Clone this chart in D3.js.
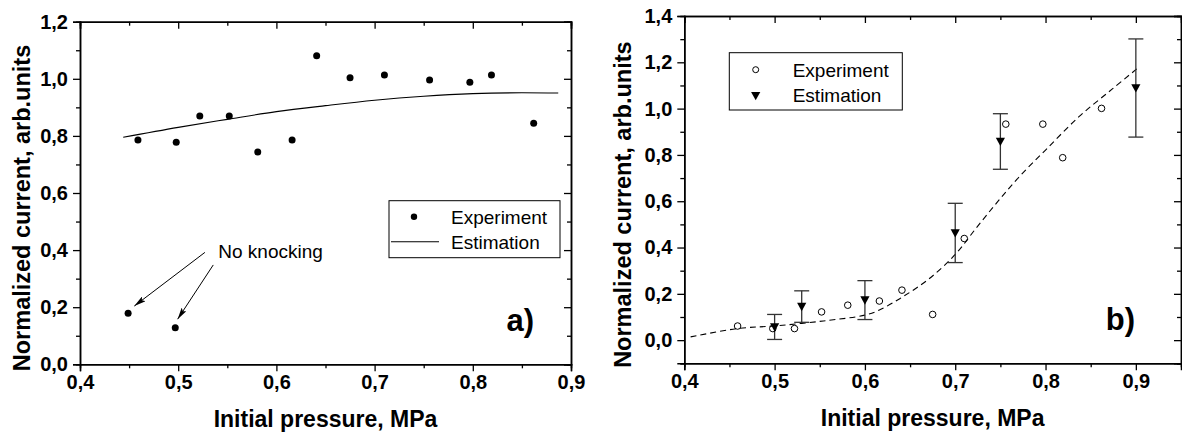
<!DOCTYPE html>
<html>
<head>
<meta charset="utf-8">
<script src="https://cdn.jsdelivr.net/npm/d3@7"></script>
<style>
  body { margin: 0; background: #fff; }
  svg { display: block; font-family: "Liberation Sans", Arial, sans-serif; }
</style>
</head>
<body>
<div id="chart"></div>
<script>
// pressures (MPa) where both panels were measured
var pressure = [0.459, 0.498, 0.522, 0.552, 0.581, 0.616, 0.641, 0.675, 0.710, 0.756, 0.797, 0.819, 0.862];

// panel a) data
var expA = [0.786, 0.778, 0.870, 0.870, 0.744, 0.786, 1.081, 1.004, 1.013, 0.996, 0.988, 1.013, 0.844];
var noKnockX = [0.449, 0.497];
var noKnockY = [0.179, 0.128];
var estAx = [0.444, 0.50, 0.55, 0.60, 0.65, 0.70, 0.75, 0.80, 0.85, 0.887];
var estAy = [0.795, 0.830, 0.858, 0.885, 0.906, 0.925, 0.939, 0.948, 0.951, 0.950];

// panel b) data
var expB = [0.061, 0.050, 0.050, 0.122, 0.151, 0.169, 0.216, 0.111, 0.439, 0.933, 0.933, 0.788, 1.001];
var estBx = [0.50, 0.53, 0.60, 0.70, 0.75, 0.90];
var estBy = [0.057, 0.145, 0.173, 0.463, 0.858, 1.089];
var estBerr = [0.054, 0.068, 0.084, 0.128, 0.120, 0.212];
var curveBx = [0.407, 0.459, 0.502, 0.554, 0.600, 0.616, 0.641, 0.671, 0.700, 0.723, 0.747, 0.771, 0.800, 0.837, 0.874, 0.904];
var curveBy = [0.014, 0.050, 0.062, 0.083, 0.108, 0.130, 0.185, 0.265, 0.370, 0.483, 0.598, 0.706, 0.821, 0.965, 1.085, 1.181];

var xTicks = [0.4, 0.5, 0.6, 0.7, 0.8, 0.9];
var yTicksA = [0.0, 0.2, 0.4, 0.6, 0.8, 1.0, 1.2];
var yTicksB = [0.0, 0.2, 0.4, 0.6, 0.8, 1.0, 1.2, 1.4];

var xTitle = "Initial pressure, MPa";
var yTitle = "Normalized current, arb.units";

var svg = d3.select("#chart").append("svg")
  .attr("width", 1182)
  .attr("height", 433);

var fmt = function(d) { return d.toFixed(1).replace(".", ","); };

function drawFrame(g, x, y, xMinor, yMinor, opt) {
  var w = opt.w, h = opt.h;
  // bottom axis
  g.append("g").attr("class", "ax").attr("transform", "translate(0," + h + ")")
    .call(d3.axisBottom(x).tickValues(xTicks).tickSize(7).tickPadding(4).tickFormat(fmt));
  g.append("g").attr("class", "ax").attr("transform", "translate(0," + h + ")")
    .call(d3.axisBottom(x).tickValues(xMinor).tickSize(4).tickFormat(""));
  // top axis (mirror)
  g.append("g").attr("class", "ax")
    .call(d3.axisTop(x).tickValues(xTicks).tickSize(-7).tickFormat(""));
  g.append("g").attr("class", "ax")
    .call(d3.axisTop(x).tickValues(xMinor).tickSize(-4).tickFormat(""));
  // left axis
  g.append("g").attr("class", "ax")
    .call(d3.axisLeft(y).tickValues(opt.yTicks).tickSize(7).tickPadding(5).tickFormat(fmt));
  g.append("g").attr("class", "ax")
    .call(d3.axisLeft(y).tickValues(yMinor).tickSize(4).tickFormat(""));
  // right axis (mirror)
  g.append("g").attr("class", "ax").attr("transform", "translate(" + w + ",0)")
    .call(d3.axisRight(y).tickValues(opt.yTicks).tickSize(-7).tickFormat(""));
  g.append("g").attr("class", "ax").attr("transform", "translate(" + w + ",0)")
    .call(d3.axisRight(y).tickValues(yMinor).tickSize(-4).tickFormat(""));

  g.selectAll(".ax path").attr("stroke", "#000").attr("stroke-width", 1.5);
  g.selectAll(".ax line").attr("stroke", "#000").attr("stroke-width", 1.3);
  g.selectAll(".ax text")
    .attr("font-family", "Liberation Sans, Arial, sans-serif")
    .attr("font-size", "20px")
    .attr("font-weight", "bold")
    .attr("fill", "#000");

  g.append("text")
    .attr("x", w / 2)
    .attr("y", h + 63)
    .attr("text-anchor", "middle")
    .attr("font-size", "23px")
    .attr("font-weight", "bold")
    .text(xTitle);

  g.append("text")
    .attr("transform", "translate(" + opt.ytx + "," + (h / 2 + 15) + ") rotate(-90)")
    .attr("text-anchor", "middle")
    .attr("font-size", "23.5px")
    .attr("font-weight", "bold")
    .text(yTitle);

  g.append("text")
    .attr("x", w - opt.labR)
    .attr("y", h - 33)
    .attr("text-anchor", "end")
    .attr("font-size", "31px")
    .attr("font-weight", "bold")
    .text(opt.label);
}

// ---------- panel a) ----------
var mA = {left: 80, top: 21.7}, wA = 491, hA = 342.6;
var gA = svg.append("g").attr("transform", "translate(" + mA.left + "," + mA.top + ")");
var xA = d3.scaleLinear().domain([0.4, 0.9]).range([0, wA]);
var yA = d3.scaleLinear().domain([0, 1.2]).range([hA, 0]);

drawFrame(gA, xA, yA, [0.45, 0.55, 0.65, 0.75, 0.85], [0.1, 0.3, 0.5, 0.7, 0.9, 1.1],
  {w: wA, h: hA, yTicks: yTicksA, ytx: -50, label: "a)", labR: 37});

gA.append("path")
  .datum(d3.zip(estAx, estAy))
  .attr("fill", "none")
  .attr("stroke", "#000")
  .attr("stroke-width", 1.1)
  .attr("d", d3.line().curve(d3.curveMonotoneX)
    .x(function(d) { return xA(d[0]); })
    .y(function(d) { return yA(d[1]); }));

gA.selectAll(".dotA")
  .data(d3.zip(pressure, expA).concat(d3.zip(noKnockX, noKnockY)))
  .enter().append("circle")
  .attr("cx", function(d) { return xA(d[0]); })
  .attr("cy", function(d) { return yA(d[1]); })
  .attr("r", 3.5)
  .attr("fill", "#000");

// "No knocking" annotation
svg.append("defs").append("marker")
  .attr("id", "arrow")
  .attr("viewBox", "0 0 12 6")
  .attr("refX", 12).attr("refY", 3)
  .attr("markerWidth", 12).attr("markerHeight", 6)
  .attr("markerUnits", "userSpaceOnUse")
  .attr("orient", "auto")
  .append("path").attr("d", "M0,0 L12,3 L0,6 L2.5,3 Z").attr("fill", "#000");

var arrowFrom = [[0.5272, 0.392], [0.5357, 0.348]];
var arrowTo = [[0.4553, 0.204], [0.4994, 0.158]];
gA.selectAll(".arr")
  .data(d3.zip(arrowFrom, arrowTo))
  .enter().append("line")
  .attr("x1", function(d) { return xA(d[0][0]); })
  .attr("y1", function(d) { return yA(d[0][1]); })
  .attr("x2", function(d) { return xA(d[1][0]); })
  .attr("y2", function(d) { return yA(d[1][1]); })
  .attr("stroke", "#000")
  .attr("stroke-width", 1)
  .attr("marker-end", "url(#arrow)");

gA.append("text")
  .attr("x", xA(0.5408))
  .attr("y", yA(0.371))
  .attr("font-size", "19px")
  .text("No knocking");

// legend a)
var lgA = gA.append("g").attr("transform", "translate(309,179)");
lgA.append("rect").attr("width", 171).attr("height", 57)
  .attr("fill", "#fff").attr("stroke", "#000").attr("stroke-width", 1);
lgA.append("circle").attr("cx", 25).attr("cy", 16).attr("r", 3.2).attr("fill", "#000");
lgA.append("line").attr("x1", 2).attr("x2", 50).attr("y1", 41).attr("y2", 41)
  .attr("stroke", "#000").attr("stroke-width", 1.1);
lgA.append("text").attr("x", 62).attr("y", 23).attr("font-size", "19px").text("Experiment");
lgA.append("text").attr("x", 62).attr("y", 48).attr("font-size", "19px").text("Estimation");

// ---------- panel b) ----------
var mB = {left: 684.3, top: 16}, wB = 496.7, hB = 347.3;
var gB = svg.append("g").attr("transform", "translate(" + mB.left + "," + mB.top + ")");
var xB = d3.scaleLinear().domain([0.4, 0.95]).range([0, wB]);
var yB = d3.scaleLinear().domain([-0.1, 1.4]).range([hB, 0]);

drawFrame(gB, xB, yB, [0.45, 0.55, 0.65, 0.75, 0.85], [-0.1, 0.1, 0.3, 0.5, 0.7, 0.9, 1.1, 1.3],
  {w: wB, h: hB, yTicks: yTicksB, ytx: -53, label: "b)", labR: 46});

gB.append("path")
  .datum(d3.zip(curveBx, curveBy))
  .attr("fill", "none")
  .attr("stroke", "#000")
  .attr("stroke-width", 1.1)
  .attr("stroke-dasharray", "6,4")
  .attr("d", d3.line().curve(d3.curveCatmullRom.alpha(0.5))
    .x(function(d) { return xB(d[0]); })
    .y(function(d) { return yB(d[1]); }));

var est = d3.zip(estBx, estBy, estBerr);
var eb = gB.selectAll(".eb").data(est).enter().append("g")
  .attr("stroke", "#333").attr("stroke-width", 1.3);
eb.append("line")
  .attr("x1", function(d) { return xB(d[0]); })
  .attr("x2", function(d) { return xB(d[0]); })
  .attr("y1", function(d) { return yB(d[1] - d[2]); })
  .attr("y2", function(d) { return yB(d[1] + d[2]); });
[-1, 1].forEach(function(s) {
  eb.append("line")
    .attr("x1", function(d) { return xB(d[0]) - 7.5; })
    .attr("x2", function(d) { return xB(d[0]) + 7.5; })
    .attr("y1", function(d) { return yB(d[1] + s * d[2]); })
    .attr("y2", function(d) { return yB(d[1] + s * d[2]); });
});

var tri = "M-4.6,-3.8 L4.6,-3.8 L0,4.6 Z";
gB.selectAll(".tri").data(est).enter().append("path")
  .attr("d", tri)
  .attr("transform", function(d) { return "translate(" + xB(d[0]) + "," + yB(d[1]) + ")"; })
  .attr("fill", "#000");

gB.selectAll(".oc")
  .data(d3.zip(pressure, expB))
  .enter().append("circle")
  .attr("cx", function(d) { return xB(d[0]); })
  .attr("cy", function(d) { return yB(d[1]); })
  .attr("r", 3.3)
  .attr("fill", "none")
  .attr("stroke", "#000")
  .attr("stroke-width", 1);

// legend b)
var lgB = gB.append("g").attr("transform", "translate(45,36.7)");
lgB.append("rect").attr("width", 173).attr("height", 57.3)
  .attr("fill", "none").attr("stroke", "#000").attr("stroke-width", 1);
lgB.append("circle").attr("cx", 26.4).attr("cy", 17).attr("r", 3)
  .attr("fill", "none").attr("stroke", "#000").attr("stroke-width", 1);
lgB.append("path").attr("d", tri).attr("transform", "translate(26.4,43)").attr("fill", "#000");
lgB.append("text").attr("x", 63.4).attr("y", 24).attr("font-size", "19px").text("Experiment");
lgB.append("text").attr("x", 63.4).attr("y", 49).attr("font-size", "19px").text("Estimation");
</script>
</body>
</html>
